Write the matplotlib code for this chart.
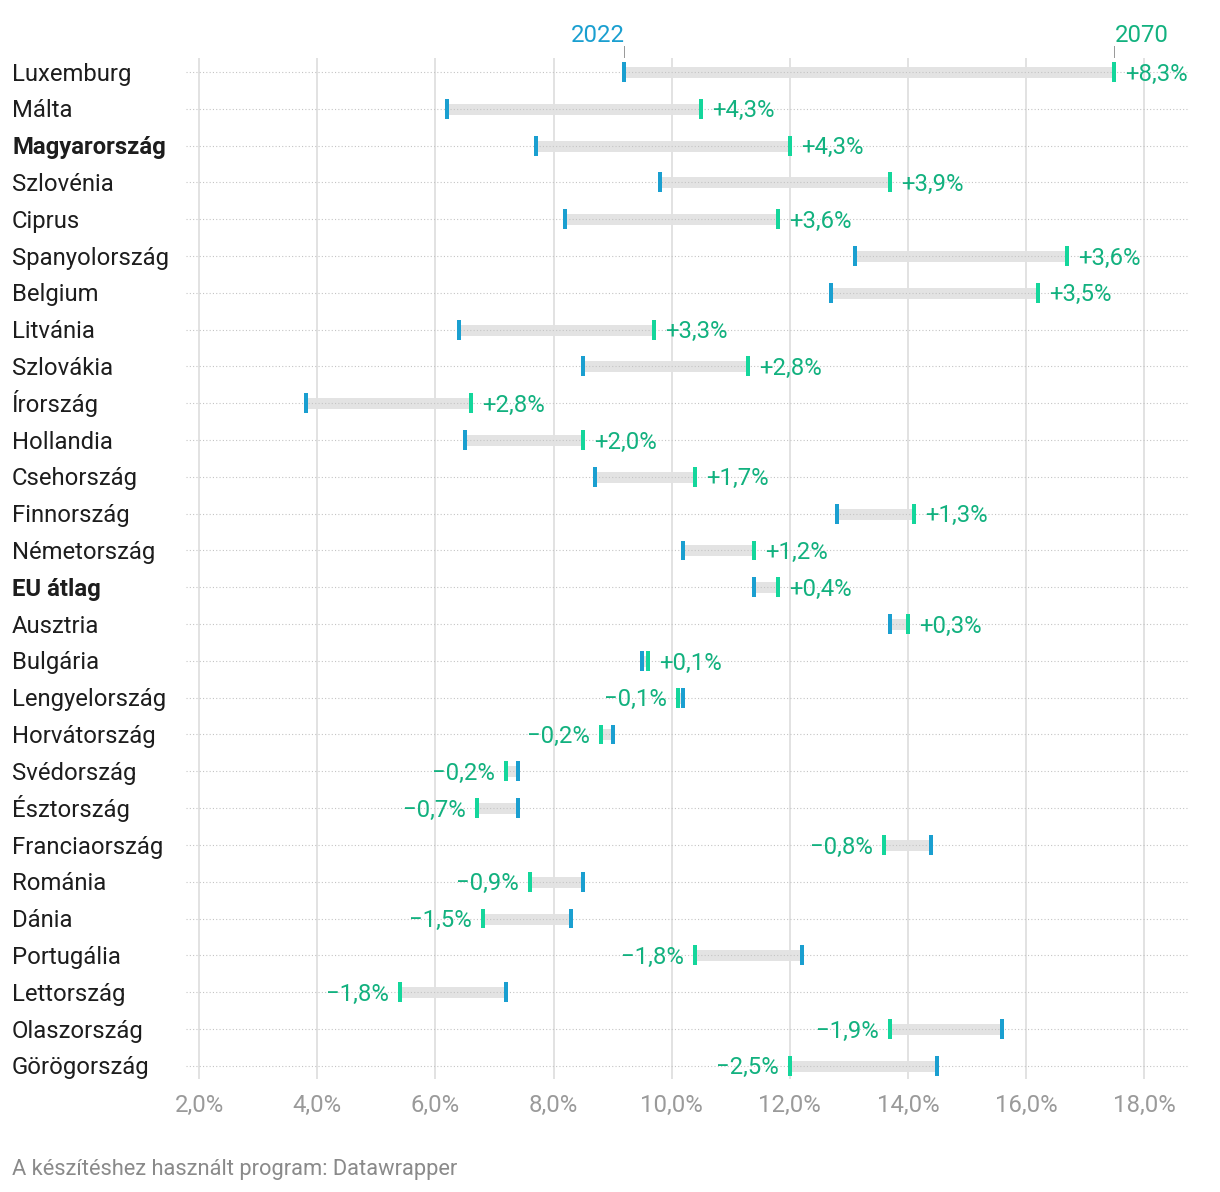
import matplotlib
matplotlib.use("Agg")
import matplotlib.pyplot as plt
import matplotlib.transforms as mtransforms

plt.rcParams['font.family'] = ['Roboto', 'DejaVu Sans']

countries = ["Luxemburg", "Málta", "Magyarország", "Szlovénia", "Ciprus", "Spanyolország",
             "Belgium", "Litvánia", "Szlovákia", "Írország", "Hollandia", "Csehország",
             "Finnország", "Németország", "EU átlag", "Ausztria", "Bulgária", "Lengyelország",
             "Horvátország", "Svédország", "Észtország", "Franciaország", "Románia", "Dánia",
             "Portugália", "Lettország", "Olaszország", "Görögország"]
v2022 = [9.2, 6.2, 7.7, 9.8, 8.2, 13.1, 12.7, 6.4, 8.5, 3.8, 6.5, 8.7, 12.8, 10.2, 11.4,
         13.7, 9.5, 10.2, 9.0, 7.4, 7.4, 14.4, 8.5, 8.3, 12.2, 7.2, 15.6, 14.5]
v2070 = [17.5, 10.5, 12.0, 13.7, 11.8, 16.7, 16.2, 9.7, 11.3, 6.6, 8.5, 10.4, 14.1, 11.4, 11.8,
         14.0, 9.6, 10.1, 8.8, 7.2, 6.7, 13.6, 7.6, 6.8, 10.4, 5.4, 13.7, 12.0]
bold_rows = ["Magyarország", "EU átlag"]
xticks = [2, 4, 6, 8, 10, 12, 14, 16, 18]
xtick_labels = ["2,0%", "4,0%", "6,0%", "8,0%", "10,0%", "12,0%", "14,0%", "16,0%", "18,0%"]

BLUE = "#1a9fd0"
GREEN = "#14d69b"
GREEN_TXT = "#12b17f"
BAR = "#e3e3e3"
FS = 17.2

W, H = 1220, 1192
fig = plt.figure(figsize=(W / 100, H / 100), dpi=100)
ax = fig.add_axes([186 / W, 1 - 1079 / H, (1188 - 186) / W, (1079 - 58) / H])

n = len(countries)
ax.set_xlim(1.775, 18.745)
ax.set_ylim(27.36, -0.38)

for s in ax.spines.values():
    s.set_visible(False)
ax.set_yticks([])
ax.set_xticks(xticks)
ax.set_xticklabels(xtick_labels)
ax.tick_params(axis='x', length=0, pad=11, labelsize=FS, labelcolor="#9a9a9a")
for x in xticks:
    ax.axvline(x, color="#e2e2e2", lw=1.4, zorder=2)

px = 100 / 72  # px per pt
base_off = -0.36 * FS  # points: shift baseline so cap-height is centred on row
trans = mtransforms.blended_transform_factory(fig.transFigure, ax.transData)
for i, (c, a, b) in enumerate(zip(countries, v2022, v2070)):
    ax.hlines(i, min(a, b), max(a, b), color=BAR, lw=11 / px, zorder=1, capstyle='butt')
    ax.axhline(i, color="#c4c4c4", lw=1.1 / px, ls=(0, (1, 2)), zorder=2)
    ax.vlines(a, i - 0.27, i + 0.27, color=BLUE, lw=4 / px, zorder=4)
    ax.vlines(b, i - 0.27, i + 0.27, color=GREEN, lw=4 / px, zorder=4)
    d = round(b - a, 1)
    txt = ("+" if d >= 0 else "\u2212") + f"{abs(d):.1f}".replace(".", ",") + "%"
    if d >= 0:
        ax.annotate(txt, (b, i), xytext=(11 / px, base_off), textcoords='offset points',
                    ha='left', va='baseline', fontsize=FS, color=GREEN_TXT)
    else:
        ax.annotate(txt, (b, i), xytext=(-11 / px, base_off), textcoords='offset points',
                    ha='right', va='baseline', fontsize=FS, color=GREEN_TXT)
    ax.annotate(c, (12 / W, i), xycoords=trans, xytext=(0, base_off), textcoords='offset points',
                ha='left', va='baseline', fontsize=FS, color="#1d1d1d",
                fontweight='bold' if c in bold_rows else 'normal', annotation_clip=False)

# top year annotations on first row
for x, lab, ha, col in [(v2022[0], "2022", 'right', BLUE), (v2070[0], "2070", 'left', GREEN_TXT)]:
    ax.plot([x, x], [-0.706, -0.407], color="#9a9a9a", lw=1 / px, clip_on=False, zorder=3)
    ax.text(x, -0.815, lab, ha=ha, va='baseline', fontsize=FS, color=col, clip_on=False)

fig.text(12 / W, 1 - 1169 / H, "A készítéshez használt program: Datawrapper",
         ha='left', va='center', fontsize=15.75, color="#8a8a8a")

fig.savefig("out.png", dpi=100, facecolor="white")
